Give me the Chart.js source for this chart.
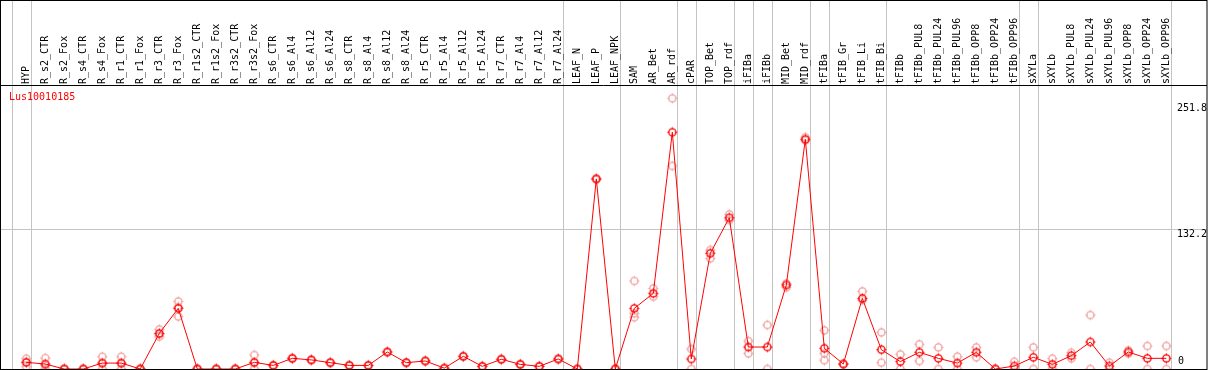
<!DOCTYPE html>
<html>
<head>
<meta charset="utf-8">
<script src="https://cdn.jsdelivr.net/npm/chart.js@4/dist/chart.umd.min.js"></script>
<style>
html,body{margin:0;padding:0;background:#fff;}
canvas{display:block;}
</style>
</head>
<body>
<canvas id="c" width="1209" height="370"></canvas>
<script>
// ---- data ----
const geneId = "Lus10010185";
const categories = ["HYP","R_s2_CTR","R_s2_Fox","R_s4_CTR","R_s4_Fox","R_r1_CTR","R_r1_Fox","R_r3_CTR","R_r3_Fox","R_r1s2_CTR","R_r1s2_Fox","R_r3s2_CTR","R_r3s2_Fox","R_s6_CTR","R_s6_Al4","R_s6_Al12","R_s6_Al24","R_s8_CTR","R_s8_Al4","R_s8_Al12","R_s8_Al24","R_r5_CTR","R_r5_Al4","R_r5_Al12","R_r5_Al24","R_r7_CTR","R_r7_Al4","R_r7_Al12","R_r7_Al24","LEAF_N","LEAF_P","LEAF_NPK","SAM","AR_Bet","AR_rdf","cPAR","TOP_Bet","TOP_rdf","iFIBa","iFIBb","MID_Bet","MID_rdf","tFIBa","tFIB_Gr","tFIB_Li","tFIB_Bi","tFIBb","tFIBb_PUL8","tFIBb_PUL24","tFIBb_PUL96","tFIBb_OPP8","tFIBb_OPP24","tFIBb_OPP96","sXYLa","sXYLb","sXYLb_PUL8","sXYLb_PUL24","sXYLb_PUL96","sXYLb_OPP8","sXYLb_OPP24","sXYLb_OPP96"];
const meanValues = [6.3,4.7,0,0,5.6,5.6,0,33.7,57.4,0,0,0,6.3,3.4,10.1,8.6,6.0,3.4,3.4,16.1,6.0,7.6,0.8,12.0,2.5,9.2,4.4,2.5,9.5,0,179.9,0,57.4,71.6,224.1,9.5,109.5,143.2,20.8,20.8,79.5,217.4,19.6,4.7,66.9,18.3,7.0,15.8,10.1,5.6,15.8,0,2.8,11.1,4.4,12.6,25.6,2.8,16.1,10.1,10.1];
const rep1 = [9.8,10.4,0,0,11.6,11.6,0,37.5,64.0,0,0,0,13.3,3.8,10.5,9.0,6.4,3.7,3.7,16.5,6.3,7.9,0.8,12.4,2.8,9.5,4.7,2.8,9.8,0,180.5,0,83.3,76.3,256.2,18.9,112.6,146.4,26.5,41.7,81.0,219.4,36.6,5.0,73.5,34.7,13.9,23.4,20.5,11.7,20.5,0,6.9,20.5,9.8,15.4,51.1,6.0,17.6,21.8,21.8];
const rep2 = [2.2,0,0,0,0,0,0,30.6,49.6,0,0,0,0,3.0,9.8,8.2,5.7,3.1,3.1,15.7,5.7,7.3,0.8,11.6,2.2,8.9,4.1,2.2,9.2,0,179.3,0,49.0,68.5,192.2,0,104.7,141.0,14.8,0,77.3,216.5,14.8,4.5,65.3,6.0,0,7.6,0,0,11.1,0,0,0,0,10.0,0,0,14.6,0,0];
const rep3 = [6.5,3.6,0,0,5.4,5.4,0,33.0,58.6,0,0,0,5.6,null,null,null,null,null,null,null,null,null,null,null,null,null,null,null,null,null,null,null,52.7,null,null,null,null,null,null,null,null,null,8.3,null,null,null,null,null,null,null,null,null,null,null,null,null,null,null,null,null,null];
const yTicks = [0, 132.2, 251.8];
const groupEnds = [-1, 0, 28, 31, 34, 35, 37, 38, 39, 41, 42, 45, 52, 53, 60];

// ---- marker styles ----
function makeMarker(color) {
  const c = document.createElement('canvas');
  c.width = 13; c.height = 13;
  const g = c.getContext('2d');
  g.strokeStyle = color;
  g.lineWidth = 1.4;
  g.beginPath(); g.arc(6.5, 6.5, 3.6, 0, Math.PI * 2); g.stroke();
  g.lineWidth = 1;
  g.beginPath();
  g.moveTo(6.5, 1.5); g.lineTo(6.5, 3.5);
  g.moveTo(6.5, 9.5); g.lineTo(6.5, 11.5);
  g.moveTo(1.5, 6.5); g.lineTo(3.5, 6.5);
  g.moveTo(9.5, 6.5); g.lineTo(11.5, 6.5);
  g.stroke();
  return c;
}
const redMarker = makeMarker('#ff0000');
const pinkMarker = makeMarker('#f0a0a0');

const toPts = arr => arr.map((v, i) => ({x: i, y: v})).filter(p => p.y !== null);

const FONT = '"DejaVu Sans Mono", "Liberation Mono", monospace';

const framePlugin = {
  id: 'frame',
  beforeDraw(chart) {
    const ctx = chart.ctx, xs = chart.scales.x, ys = chart.scales.y;
    ctx.save();
    ctx.strokeStyle = '#c4c4c4';
    ctx.lineWidth = 1;
    groupEnds.forEach(g => {
      const px = Math.round(xs.getPixelForValue(g + 0.23)) + 0.5;
      ctx.beginPath(); ctx.moveTo(px, 0); ctx.lineTo(px, chart.chartArea.bottom); ctx.stroke();
    });
    const gy = Math.round(ys.getPixelForValue(yTicks[1])) + 0.5;
    ctx.beginPath(); ctx.moveTo(0, gy); ctx.lineTo(chart.chartArea.right, gy); ctx.stroke();
    ctx.restore();
  },
  afterDraw(chart) {
    const ctx = chart.ctx, ys = chart.scales.y, a = chart.chartArea;
    ctx.save();
    ctx.font = '10px ' + FONT;
    ctx.fillStyle = '#000';
    ctx.textAlign = 'left';
    yTicks.forEach(t => {
      const py = ys.getPixelForValue(t);
      if (t === 0) { ctx.textBaseline = 'bottom'; ctx.fillText('0', 1178, py - 3); }
      else { ctx.textBaseline = 'top'; ctx.fillText(String(t), 1177, py + 0.5); }
    });
    ctx.fillStyle = '#ff0000';
    ctx.textBaseline = 'middle';
    ctx.fillText(geneId, 9, 97.5);
    ctx.strokeStyle = '#000';
    ctx.lineWidth = 1;
    ctx.strokeRect(0.5, 0.5, a.right - 0.5, a.bottom);
    ctx.beginPath(); ctx.moveTo(0, a.top + 0.5); ctx.lineTo(a.right, a.top + 0.5); ctx.stroke();
    ctx.restore();
  }
};

new Chart(document.getElementById('c'), {
  type: 'line',
  data: {
    datasets: [
      {data: toPts(meanValues), borderColor: '#ff0000', borderWidth: 1, pointStyle: redMarker, pointRadius: 4, tension: 0, fill: false},
      {data: toPts(rep1), showLine: false, pointStyle: pinkMarker, pointRadius: 4},
      {data: toPts(rep2), showLine: false, pointStyle: pinkMarker, pointRadius: 4},
      {data: toPts(rep3), showLine: false, pointStyle: pinkMarker, pointRadius: 4}
    ]
  },
  options: {
    responsive: false,
    animation: false,
    devicePixelRatio: 1,
    layout: {autoPadding: false, padding: {left: 1, right: 2, top: 0, bottom: 1}},
    plugins: {legend: {display: false}, tooltip: {enabled: false}},
    scales: {
      x: {
        type: 'linear', position: 'top', min: -1.33, max: 62.14,
        afterBuildTicks: s => { s.ticks = categories.map((c, i) => ({value: i})); },
        afterFit: s => { s.height = 85; s.paddingLeft = 0; s.paddingRight = 0; },
        grid: {display: false, drawTicks: false},
        border: {display: false},
        ticks: {
          autoSkip: false, minRotation: 90, maxRotation: 90, padding: 1, labelOffset: 12,
          color: '#000', font: {family: FONT, size: 10},
          callback: v => categories[v]
        }
      },
      y: {
        display: false, min: 0, max: 268.8
      }
    }
  },
  plugins: [framePlugin]
});
</script>
</body>
</html>
